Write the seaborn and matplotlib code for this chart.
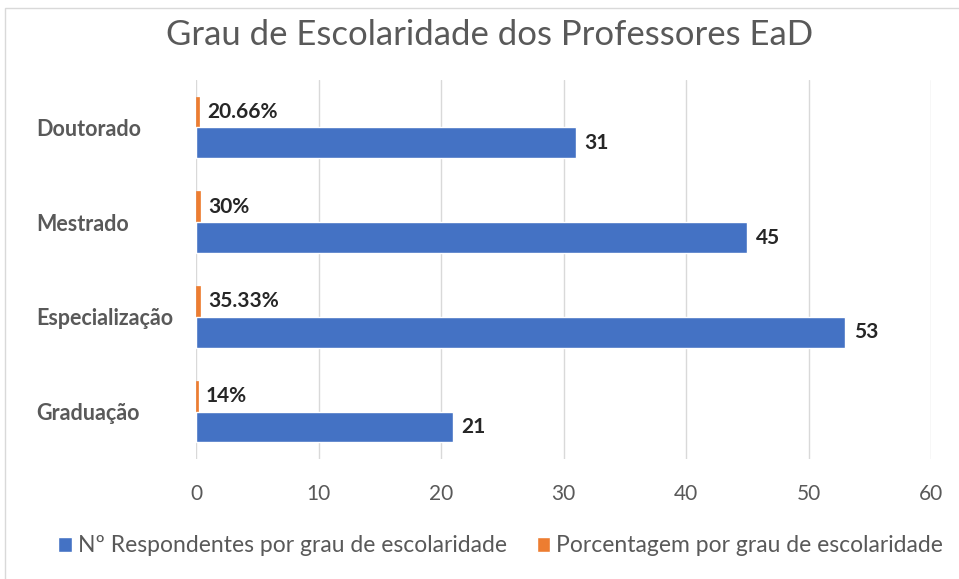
import pandas as pd
import matplotlib
matplotlib.use("Agg")
import matplotlib.pyplot as plt
import seaborn as sns
from matplotlib.patches import Patch, Rectangle

# data
categories = ["Doutorado", "Mestrado", "Especialização", "Graduação"]
respondentes = [31, 45, 53, 21]
porcentagem = [20.66, 30, 35.33, 14]
porcentagem_labels = ["20.66%", "30%", "35.33%", "14%"]
serie_resp = "Nº Respondentes por grau de escolaridade"
serie_pct = "Porcentagem por grau de escolaridade"

blue = "#4472C4"
orange = "#ED7D31"
gray = "#595959"

df = pd.DataFrame({
    "Grau": categories * 2,
    "Valor": [p / 100 for p in porcentagem] + respondentes,
    "Serie": [serie_pct] * len(categories) + [serie_resp] * len(categories),
})

sns.set_theme(style="white")
plt.rcParams["font.family"] = ["Lato", "DejaVu Sans"]

fig = plt.figure(figsize=(9.59, 5.79), dpi=100)
ax = fig.add_axes([0.2044, 0.2073, 0.7664, 0.6545])

sns.barplot(data=df, y="Grau", x="Valor", hue="Serie", order=categories,
            hue_order=[serie_pct, serie_resp], palette=[orange, blue],
            width=0.65, orient="h", saturation=1, errorbar=None,
            legend=False, ax=ax)
for bar in ax.containers[0]:
    bar.set_edgecolor(orange)
    bar.set_linewidth(0.5)

# value labels
ax.bar_label(ax.containers[0], labels=porcentagem_labels, padding=6,
             fontsize=15, fontweight="bold", color="#262626")
ax.bar_label(ax.containers[1], labels=[str(v) for v in respondentes], padding=6,
             fontsize=15, fontweight="bold", color="#262626")

ax.set_xlim(0, 60)
ax.set_xticks(range(0, 61, 10))
ax.xaxis.grid(True, color="#d9d9d9", linewidth=1)
ax.set_axisbelow(True)
for s in ax.spines.values():
    s.set_visible(False)
ax.set_xlabel("")
ax.set_ylabel("")
ax.tick_params(axis="x", length=0, pad=18, labelsize=15, labelcolor=gray)
ax.tick_params(axis="y", length=0, pad=115, labelsize=15.5, labelcolor=gray)
for lbl in ax.get_yticklabels():
    lbl.set_horizontalalignment("left")
    lbl.set_fontweight("bold")

fig.text(0.511, 0.9396, "Grau de Escolaridade dos Professores EaD",
         ha="center", va="center", fontsize=25, color=gray)

handles = [Patch(facecolor=blue, label=serie_resp),
           Patch(facecolor=orange, label=serie_pct)]
fig.legend(handles=handles, loc="center", bbox_to_anchor=(0.522, 1 - 546 / 579),
           ncol=2, frameon=False, fontsize=16.5, labelcolor=gray,
           handlelength=0.6, handleheight=0.6, handletextpad=0.25, columnspacing=1.3)

# chart area border (top and left edges visible)
fig.add_artist(Rectangle((5 / 959, -0.1), 2, 1 - 8 / 579 + 0.1,
                         transform=fig.transFigure, fill=False,
                         edgecolor="#d9d9d9", linewidth=1))

fig.savefig("out.png", dpi=100)
